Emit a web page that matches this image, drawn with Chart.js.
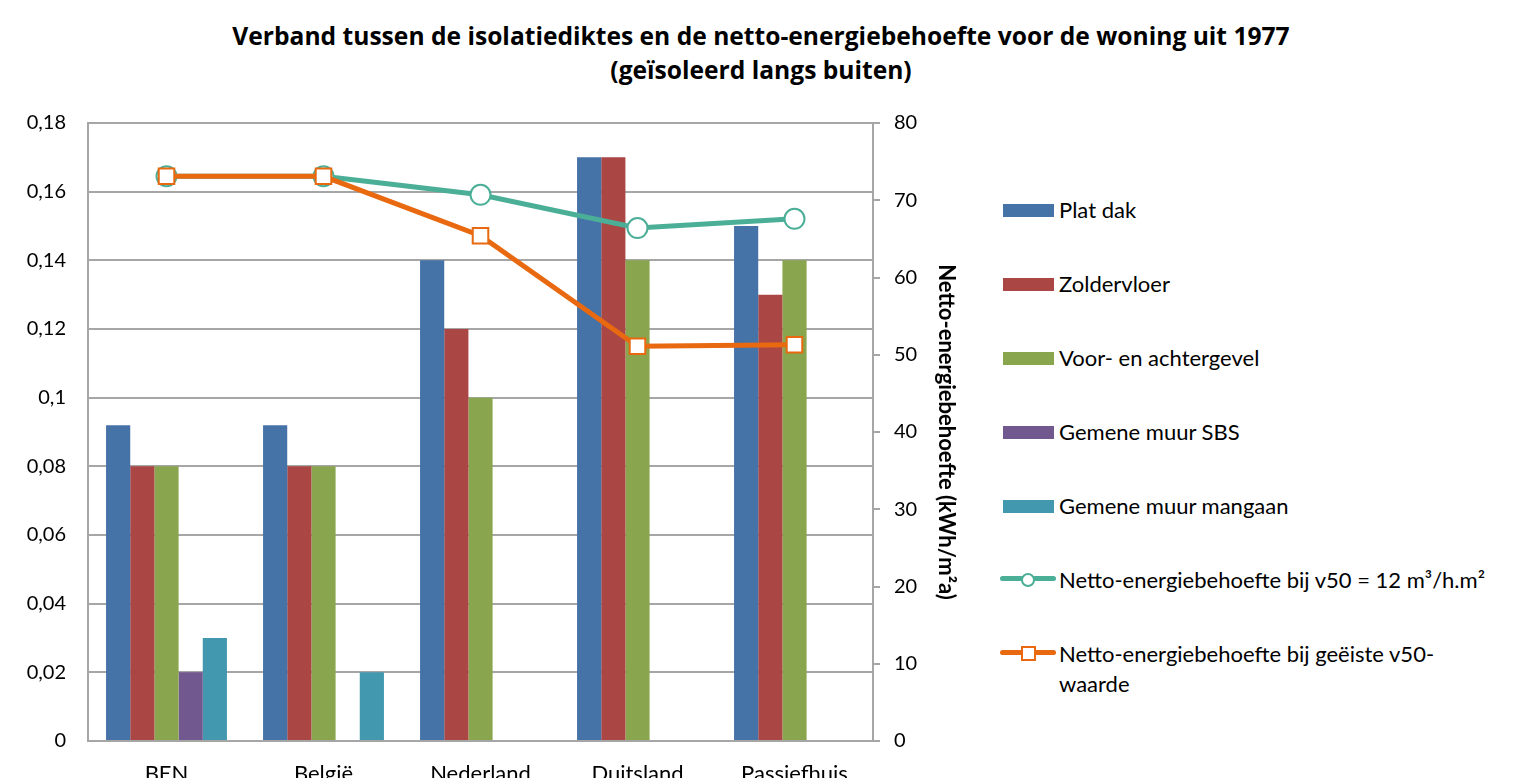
<!DOCTYPE html>
<html>
<head>
<meta charset="utf-8">
<script src="https://cdn.jsdelivr.net/npm/chart.js@4"></script>
<style>
  html, body { margin: 0; padding: 0; background: #fff; overflow: hidden; }
  body { width: 1522px; height: 778px; position: relative; font-family: "Lato", "Open Sans", sans-serif; }
  #title { position: absolute; left: 0; top: 19px; width: 1522px; text-align: center;
           font-family: "Open Sans", "Lato", sans-serif;
           font-weight: bold; font-size: 24.6px; line-height: 34px; color: #000; }
  #wrap { position: absolute; left: 0; top: 0; width: 960px; height: 800px; }
  #legend { position: absolute; left: 1000px; top: 195px; width: 520px; font-size: 22px; color: #000; }
  .item { display: flex; align-items: flex-start; height: 74px; }
  .icon { width: 57px; height: 30px; position: relative; flex: none; }
  .txt { max-width: 436px; line-height: 30px; padding-left: 2px; }
</style>
</head>
<body>
<div id="title">Verband tussen de isolatiediktes en de netto-energiebehoefte voor de woning uit 1977<br>(geïsoleerd langs buiten)</div>
<div id="wrap"><canvas id="chart"></canvas></div>
<div id="legend"></div>
<script>
// =========================
// DATA
// =========================
const categories = ["BEN", "België", "Nederland", "Duitsland", "Passiefhuis"];

const platDak = [0.092, 0.092, 0.14, 0.17, 0.15];
const zoldervloer = [0.08, 0.08, 0.12, 0.17, 0.13];
const gevel = [0.08, 0.08, 0.10, 0.14, 0.14];
const muurSBS = [0.02, null, null, null, null];
const muurMangaan = [0.03, 0.02, null, null, null];

const energieV50 = [73.1, 73.1, 70.7, 66.4, 67.6];
const energieGeeist = [73.1, 73.1, 65.4, 51.1, 51.3];

const leftTicks = [0, 0.02, 0.04, 0.06, 0.08, 0.1, 0.12, 0.14, 0.16, 0.18];

const FONT = "Lato, 'Open Sans', sans-serif";
const GRID = "#a6a6a6";

function bar(label, data, color) {
    return { type: "bar", label: label, data: data, backgroundColor: color,
             yAxisID: "y", order: 2, barPercentage: 1, categoryPercentage: 0.77 };
}

const chart = new Chart(document.getElementById("chart"), {
    data: {
        labels: categories,
        datasets: [
            bar("Plat dak", platDak, "#4572A7"),
            bar("Zoldervloer", zoldervloer, "#AA4643"),
            bar("Voor- en achtergevel", gevel, "#89A54E"),
            bar("Gemene muur SBS", muurSBS, "#71588F"),
            bar("Gemene muur mangaan", muurMangaan, "#4198AF"),
            {
                type: "line", label: "Netto-energiebehoefte bij v50 = 12 m³/h.m²",
                data: energieV50, yAxisID: "y1", order: 1,
                borderColor: "#4BAF98", borderWidth: 5, tension: 0,
                pointStyle: "circle", pointRadius: 10, pointBorderWidth: 2,
                pointBackgroundColor: "#fff", pointBorderColor: "#4BAF98"
            },
            {
                type: "line", label: "Netto-energiebehoefte bij geëiste v50-waarde",
                data: energieGeeist, yAxisID: "y1", order: 0,
                borderColor: "#E8690F", borderWidth: 5, tension: 0,
                pointStyle: "rect", pointRadius: 11, pointBorderWidth: 2,
                pointBackgroundColor: "#fff", pointBorderColor: "#E8690F"
            }
        ]
    },
    options: {
        responsive: true,
        maintainAspectRatio: false,
        animation: false,
        layout: { padding: { top: 123, left: 0, right: 0, bottom: 0 } },
        plugins: { legend: { display: false }, tooltip: { enabled: false } },
        scales: {
            x: {
                grid: { display: false, drawTicks: false },
                border: { color: GRID, width: 2 },
                ticks: { color: "#000", font: { family: FONT, size: 22 }, padding: 20 },
                afterFit: function (s) { s.height = 59; }
            },
            y: {
                position: "left", min: 0, max: 0.18,
                afterBuildTicks: function (s) { s.ticks = leftTicks.map(v => ({ value: v })); },
                grid: { color: GRID, lineWidth: 2, drawTicks: false },
                border: { color: GRID, width: 2 },
                ticks: {
                    color: "#000", font: { family: FONT, size: 20 }, padding: 22,
                    callback: function (v) { return String(Math.round(v * 100) / 100).replace(".", ","); }
                },
                afterFit: function (s) { s.width = 88; }
            },
            y1: {
                position: "right", min: 0, max: 80,
                ticks: { stepSize: 10, color: "#000", font: { family: FONT, size: 20 }, padding: 14 },
                grid: { drawOnChartArea: false, color: GRID, lineWidth: 2, tickLength: 7 },
                border: { color: GRID, width: 2 },
                title: { display: true, text: "Netto-energiebehoefte (kWh/m²a)", color: "#000",
                         font: { family: FONT, size: 22, weight: "bold" }, padding: 1 },
                afterFit: function (s) { s.width = 87; }
            }
        }
    },
    plugins: [{
        id: "topBorder",
        afterDatasetsDraw: function (c) {
            // top border of the plot area
            const a = c.chartArea, ctx = c.ctx;
            ctx.save();
            ctx.strokeStyle = GRID; ctx.lineWidth = 2;
            ctx.beginPath(); ctx.moveTo(a.left, a.top); ctx.lineTo(a.right, a.top); ctx.stroke();
            ctx.restore();
        }
    }]
});

// =========================
// LEGEND (HTML)
// =========================
const legend = document.getElementById("legend");
chart.data.datasets.forEach(function (ds) {
    const item = document.createElement("div");
    item.className = "item";
    const icon = document.createElement("div");
    icon.className = "icon";
    if (ds.type === "bar") {
        icon.innerHTML = '<div style="position:absolute;left:3px;top:9px;width:51px;height:13px;background:' + ds.backgroundColor + '"></div>';
    } else {
        const c = ds.borderColor;
        const mark = ds.pointStyle === "circle"
            ? '<div style="position:absolute;left:21px;top:8px;width:10px;height:10px;border-radius:50%;border:2px solid ' + c + ';background:#fff"></div>'
            : '<div style="position:absolute;left:21px;top:7px;width:11px;height:11px;border:2px solid ' + c + ';background:#fff"></div>';
        icon.innerHTML = '<div style="position:absolute;left:0;top:11px;width:56px;height:5px;border-radius:3px;background:' + c + '"></div>' + mark;
    }
    const txt = document.createElement("div");
    txt.className = "txt";
    txt.textContent = ds.label;
    item.appendChild(icon);
    item.appendChild(txt);
    legend.appendChild(item);
});
</script>
</body>
</html>
